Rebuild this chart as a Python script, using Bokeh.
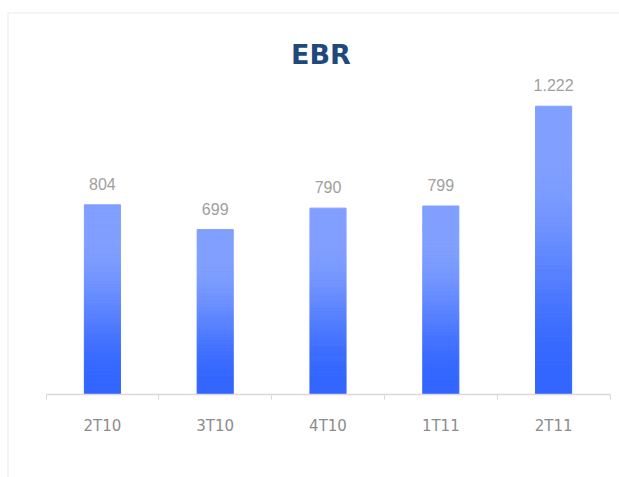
from bokeh.plotting import figure
from bokeh.models import Range1d, LinearAxis, FixedTicker, Label, BoxAnnotation, ColumnDataSource
from bokeh.core.properties import value
from bokeh.embed import file_html
from bokeh.resources import INLINE

# ---- data ----
categories = ["2T10", "3T10", "4T10", "1T11", "2T11"]
ebr_values = [804, 699, 790, 799, 1222]
value_labels = ["804", "699", "790", "799", "1.222"]
title_text = "EBR"

# ---- layout geometry (pixels) ----
W, H = 619, 477
AX_LEFT_PX, AX_RIGHT_PX = 45.5, 609.5
BASE_PX = 394.0
UNITS_PER_PX = 4.239

n = len(categories)
px_per_x = (AX_RIGHT_PX - AX_LEFT_PX) / n
x_start = -AX_LEFT_PX / px_per_x
x_end = n + (W - AX_RIGHT_PX) / px_per_x
y_end = BASE_PX * UNITS_PER_PX
y_start = -(H - BASE_PX) * UNITS_PER_PX


def xd(px):
    return x_start + px / px_per_x


def yd(py):
    return y_end - py * UNITS_PER_PX


p = figure(width=W, height=H, x_range=Range1d(x_start, x_end), y_range=Range1d(y_start, y_end),
           x_axis_location=None, y_axis_location=None, min_border=0,
           toolbar_location=None, output_backend="svg", outline_line_color=None,
           background_fill_color="white", border_fill_color="white")
p.grid.visible = False

# ---- frame border (left and top lines) ----
p.add_layout(BoxAnnotation(left=xd(7.5), top=yd(12.5), right=xd(W + 20), bottom=yd(H + 20),
                           fill_color=None, line_color="#d9d9d9", line_width=2))

# ---- gradient bars built from values ----
LIGHT = (128, 159, 255)
DARK = (51, 102, 255)
N = 60


def grad_color(frac_from_top):
    a, b = 0.18, 0.95
    t = min(max((frac_from_top - a) / (b - a), 0.0), 1.0)
    t = t * t * (3 - 2 * t)
    c = [round(LIGHT[j] + (DARK[j] - LIGHT[j]) * t) for j in range(3)]
    return "#%02x%02x%02x" % tuple(c)


xs, bots, tops, cols = [], [], [], []
for i, v in enumerate(ebr_values):
    for k in range(N):
        xs.append(i + 0.5)
        bots.append(v * k / N)
        tops.append(v * (k + 1) / N)
        cols.append(grad_color(1 - (k + 0.5) / N))

src = ColumnDataSource(dict(x=xs, bottom=bots, top=tops, color=cols))
p.vbar(x="x", bottom="bottom", top="top", width=0.32, fill_color="color", line_color="color",
       line_width=1, source=src)

# ---- value labels ----
lab_src = ColumnDataSource(dict(x=[i + 0.5 for i in range(n)], y=ebr_values, text=value_labels))
p.text(x="x", y="y", text="text", source=lab_src, text_align="center", text_baseline="alphabetic",
       y_offset=-21, text_font=value("Liberation Sans"), text_font_size="16px", text_color="#a0a0a0")

# ---- category axis ----
xaxis = LinearAxis(fixed_location=0, bounds=(0, n))
xaxis.ticker = FixedTicker(ticks=[i + 0.5 for i in range(n)], minor_ticks=list(range(n + 1)))
xaxis.major_label_overrides = {i + 0.5: c for i, c in enumerate(categories)}
xaxis.major_tick_out = 0
xaxis.major_tick_in = 0
xaxis.minor_tick_out = 5
xaxis.minor_tick_in = 0
xaxis.minor_tick_line_color = "#d9d9d9"
xaxis.axis_line_color = "#d9d9d9"
xaxis.axis_line_width = 1.5
xaxis.major_label_standoff = 17
xaxis.major_label_text_font = "DejaVu Sans"
xaxis.major_label_text_font_size = "15px"
xaxis.major_label_text_color = "#8c8c8c"
p.add_layout(xaxis, "below")

# ---- title ----
p.add_layout(Label(x=xd(320.5), y=yd(53.5), text=title_text, text_align="center",
                   text_baseline="alphabetic", text_font="DejaVu Sans", text_font_style="bold",
                   text_font_size="27px", text_color="#1F497D"))

open("out.html", "w").write(file_html(p, INLINE))
